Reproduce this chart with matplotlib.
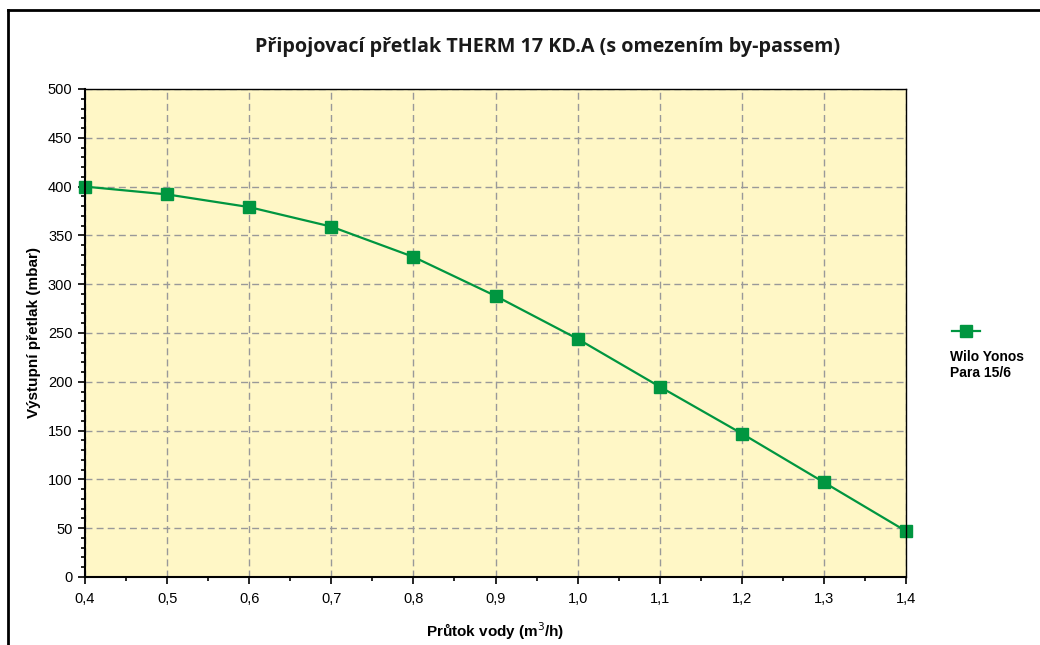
import matplotlib.pyplot as plt
from matplotlib.lines import Line2D
from matplotlib.ticker import MultipleLocator, FuncFormatter

# prutok vody (m3/h) a vystupni pretlak (mbar)
prutok = [0.4, 0.5, 0.6, 0.7, 0.8, 0.9, 1.0, 1.1, 1.2, 1.3, 1.4]
pretlak = [400, 392, 379, 359, 328, 288, 244, 195, 147, 97, 47]
nazev = 'Wilo Yonos\nPara 15/6'

zelena = '#009640'

plt.rcParams['font.family'] = ['Liberation Sans', 'DejaVu Sans']

figure = plt.figure(figsize=(10.4, 6.45), dpi=100)
ax = figure.add_axes([85 / 1040, 1 - 577 / 645, 821 / 1040, 488 / 645])
ax.set_facecolor('#FFF7C6')

ax.plot(prutok, pretlak, color=zelena, marker='s', markersize=8, linewidth=1.6,
        clip_on=False, zorder=3)

ax.set_xlim(0.4, 1.4)
ax.set_ylim(0, 500)
ax.xaxis.set_major_locator(MultipleLocator(0.1))
ax.xaxis.set_minor_locator(MultipleLocator(0.05))
ax.yaxis.set_major_locator(MultipleLocator(50))
ax.yaxis.set_minor_locator(MultipleLocator(10))
ax.xaxis.set_major_formatter(FuncFormatter(lambda v, p: ('%.1f' % v).replace('.', ',')))
ax.tick_params(which='major', direction='out', length=5, width=1.2, labelsize=10.5, colors='black', pad=6)
ax.tick_params(which='minor', direction='out', length=3, width=1.2)
ax.tick_params(axis='y', pad=4)

ax.grid(True, which='major', linestyle=(0, (5, 3)), color='#999999', linewidth=1)
ax.set_axisbelow(True)
for s in ax.spines.values():
    s.set_linewidth(1.5)
    s.set_zorder(4)
ax.spines['top'].set_linewidth(1.0)
ax.spines['right'].set_linewidth(1.0)

ax.set_xlabel('Průtok vody (m$^3$/h)', fontsize=11, fontweight='bold', labelpad=10)
ax.set_ylabel('Výstupní přetlak (mbar)', fontsize=11, fontweight='bold', labelpad=5)

figure.text(0.5265, 1 - 47 / 645, 'Připojovací přetlak THERM 17 KD.A (s omezením by-passem)',
            ha='center', va='center', fontsize=14.2, fontweight='bold',
            family=['Open Sans', 'DejaVu Sans'], color='#1a1a1a')

# legenda: znacka nad textem
figure.add_artist(Line2D([952 / 1040, 980 / 1040], [1 - 331 / 645, 1 - 331 / 645],
                         color=zelena, linewidth=1.6))
figure.add_artist(Line2D([966 / 1040], [1 - 331 / 645], color=zelena, marker='s',
                         markersize=8, linestyle='none'))
figure.text(950 / 1040, 1 - 350 / 645, nazev, ha='left', va='top', fontsize=10,
            fontweight='bold', linespacing=1.15)

# ramecek kolem grafu
figure.add_artist(Line2D([8 / 1040, 1], [1 - 10 / 645, 1 - 10 / 645], color='black', linewidth=2))
figure.add_artist(Line2D([8 / 1040, 8 / 1040], [0, 1 - 10 / 645], color='black', linewidth=2))

figure.savefig('out.png')
